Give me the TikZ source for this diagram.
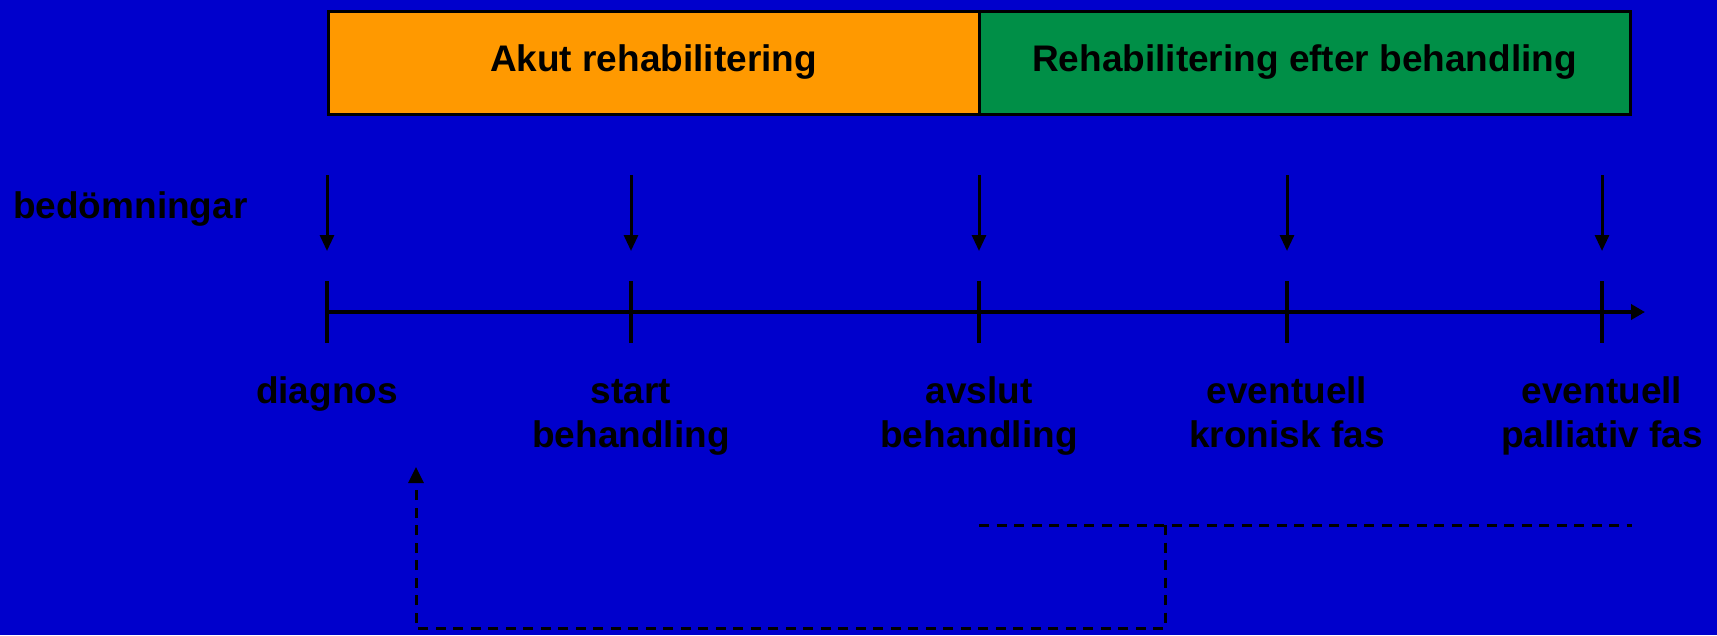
\documentclass[tikz,border=0pt]{standalone}
\usepackage{fontspec}
\setmainfont{Liberation Sans}
\usetikzlibrary{positioning,arrows.meta}
\definecolor{slideblue}{RGB}{0,0,204}
\definecolor{akutorange}{RGB}{255,153,0}
\definecolor{eftergreen}{RGB}{0,143,71}
\newcommand\storfont{\fontsize{37}{44}\selectfont\bfseries}

\begin{document}
\begin{tikzpicture}[x=1pt, y=-1pt, node distance=0pt,
    phase/.style={draw, line width=3pt, minimum width=651pt, minimum height=103pt,
      inner sep=0pt, outer sep=0pt, font=\storfont},
    lbl/.style={align=center, inner sep=0pt, font=\storfont},
    pil/.style={line width=3pt, -{Triangle[length=16pt, width=14pt]}},
    streck/.style={line width=3pt, dash pattern=on 10pt off 7.5pt}]
  \fill[slideblue] (0,0) rectangle (1717,635);
  \node[phase, fill=akutorange] (akut) at (653.5,62.5) {Akut rehabilitering};
  \node[phase, fill=eftergreen, right=of akut] (efter) {Rehabilitering efter behandling};
  \node[lbl, anchor=base west] (bed) at (13,218) {bedömningar};
  \coordinate (t0) at (327,312);
  \coordinate (t1) at (1645,312);
  \draw[line width=3.5pt, -{Triangle[length=14pt, width=15pt]}] (t0) -- (t1);
  \foreach \x/\y/\n/\t in {327/403/diag/diagnos, 631/447/start/start\\behandling,
      979/447/avslut/avslut\\behandling, 1287/447/kron/eventuell\\kronisk fas,
      1602/447/pall/eventuell\\palliativ fas} {
    \coordinate (top\n) at (\x,175);
    \coordinate (pil\n) at (\x,251);
    \coordinate (a\n) at (\x,281);
    \coordinate (b\n) at (\x,343);
    \draw[pil] (top\n) -- (pil\n);
    \draw[line width=3.5pt] (a\n) -- (b\n);
    \node[lbl, anchor=base] (l\n) at (\x,\y) {\t};
  }
  \coordinate (fa) at (979,525);
  \coordinate (fb) at (1632,525);
  \coordinate (fm) at (1165,525);
  \coordinate (fv) at (416,628);
  \coordinate (ret) at (416,467);
  \draw[streck] (fa) -- (fb);
  \draw[streck, -{Triangle[length=16pt, width=15pt]}] (fm) |- (fv) -- (ret);
\end{tikzpicture}
\end{document}
